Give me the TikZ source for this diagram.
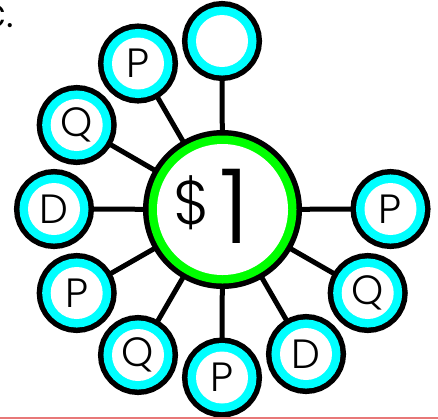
\documentclass[tikz,border=0pt]{standalone}
\usepackage{fontspec}
\usetikzlibrary{backgrounds}
\setmainfont{Poppins Light}
\definecolor{ringcyan}{RGB}{0,255,255}
\definecolor{ringgreen}{RGB}{0,255,0}
\definecolor{rulered}{RGB}{232,120,120}
\tikzset{
  every node/.style={inner sep=0pt,outer sep=0pt},
  leaf/.style={circle,fill=white,minimum size=52bp,
    preaction={draw=black,line width=28bp},
    preaction={draw=ringcyan,line width=17bp},
    font=\fontsize{41}{41}\selectfont,text=black},
  hub/.style={circle,fill=white,minimum size=131bp,
    preaction={draw=black,line width=28bp},
    preaction={draw=ringgreen,line width=17bp}},
  link/.style={draw=black,line width=5bp},
  rule/.style={draw=rulered,line width=1.5bp}
}
\begin{document}
\begin{tikzpicture}[x=1bp,y=-1bp]
\useasboundingbox (0,0) rectangle (438,419);
\node[hub] (c) at (222.5,209.5) {};
\node[font=\fontsize{62}{62}\selectfont,anchor=base] (dollar) at (192,224) {\$};
\node[font=\fontsize{104}{104}\selectfont,anchor=base] (one) at (235,243) {1};
\node[leaf] (a) at (222,41) {};
\node[leaf] (b) at (138,63.5) {P};
\node[leaf] (d) at (76.7,125) {Q};
\node[leaf] (e) at (54,209) {D};
\node[leaf] (f) at (76.7,293) {P};
\node[leaf] (g) at (138,355) {Q};
\node[leaf] (h) at (222,377.5) {P};
\node[leaf] (i) at (306,354) {D};
\node[leaf] (j) at (367.7,293) {Q};
\node[leaf] (k) at (390.5,209) {P};
\begin{pgfonlayer}{background}
\foreach \n in {a,b,d,e,f,g,h,i,j,k} \draw[link] (c.center) -- (\n.center);
\end{pgfonlayer}
\node[anchor=base east,font=\fontsize{41}{41}\selectfont] (frag) at (14,27) {c.};
\coordinate (r1) at (0,418.2);
\coordinate (r2) at (438,418.2);
\draw[rule] (r1) -- (r2);
\end{tikzpicture}
\end{document}
